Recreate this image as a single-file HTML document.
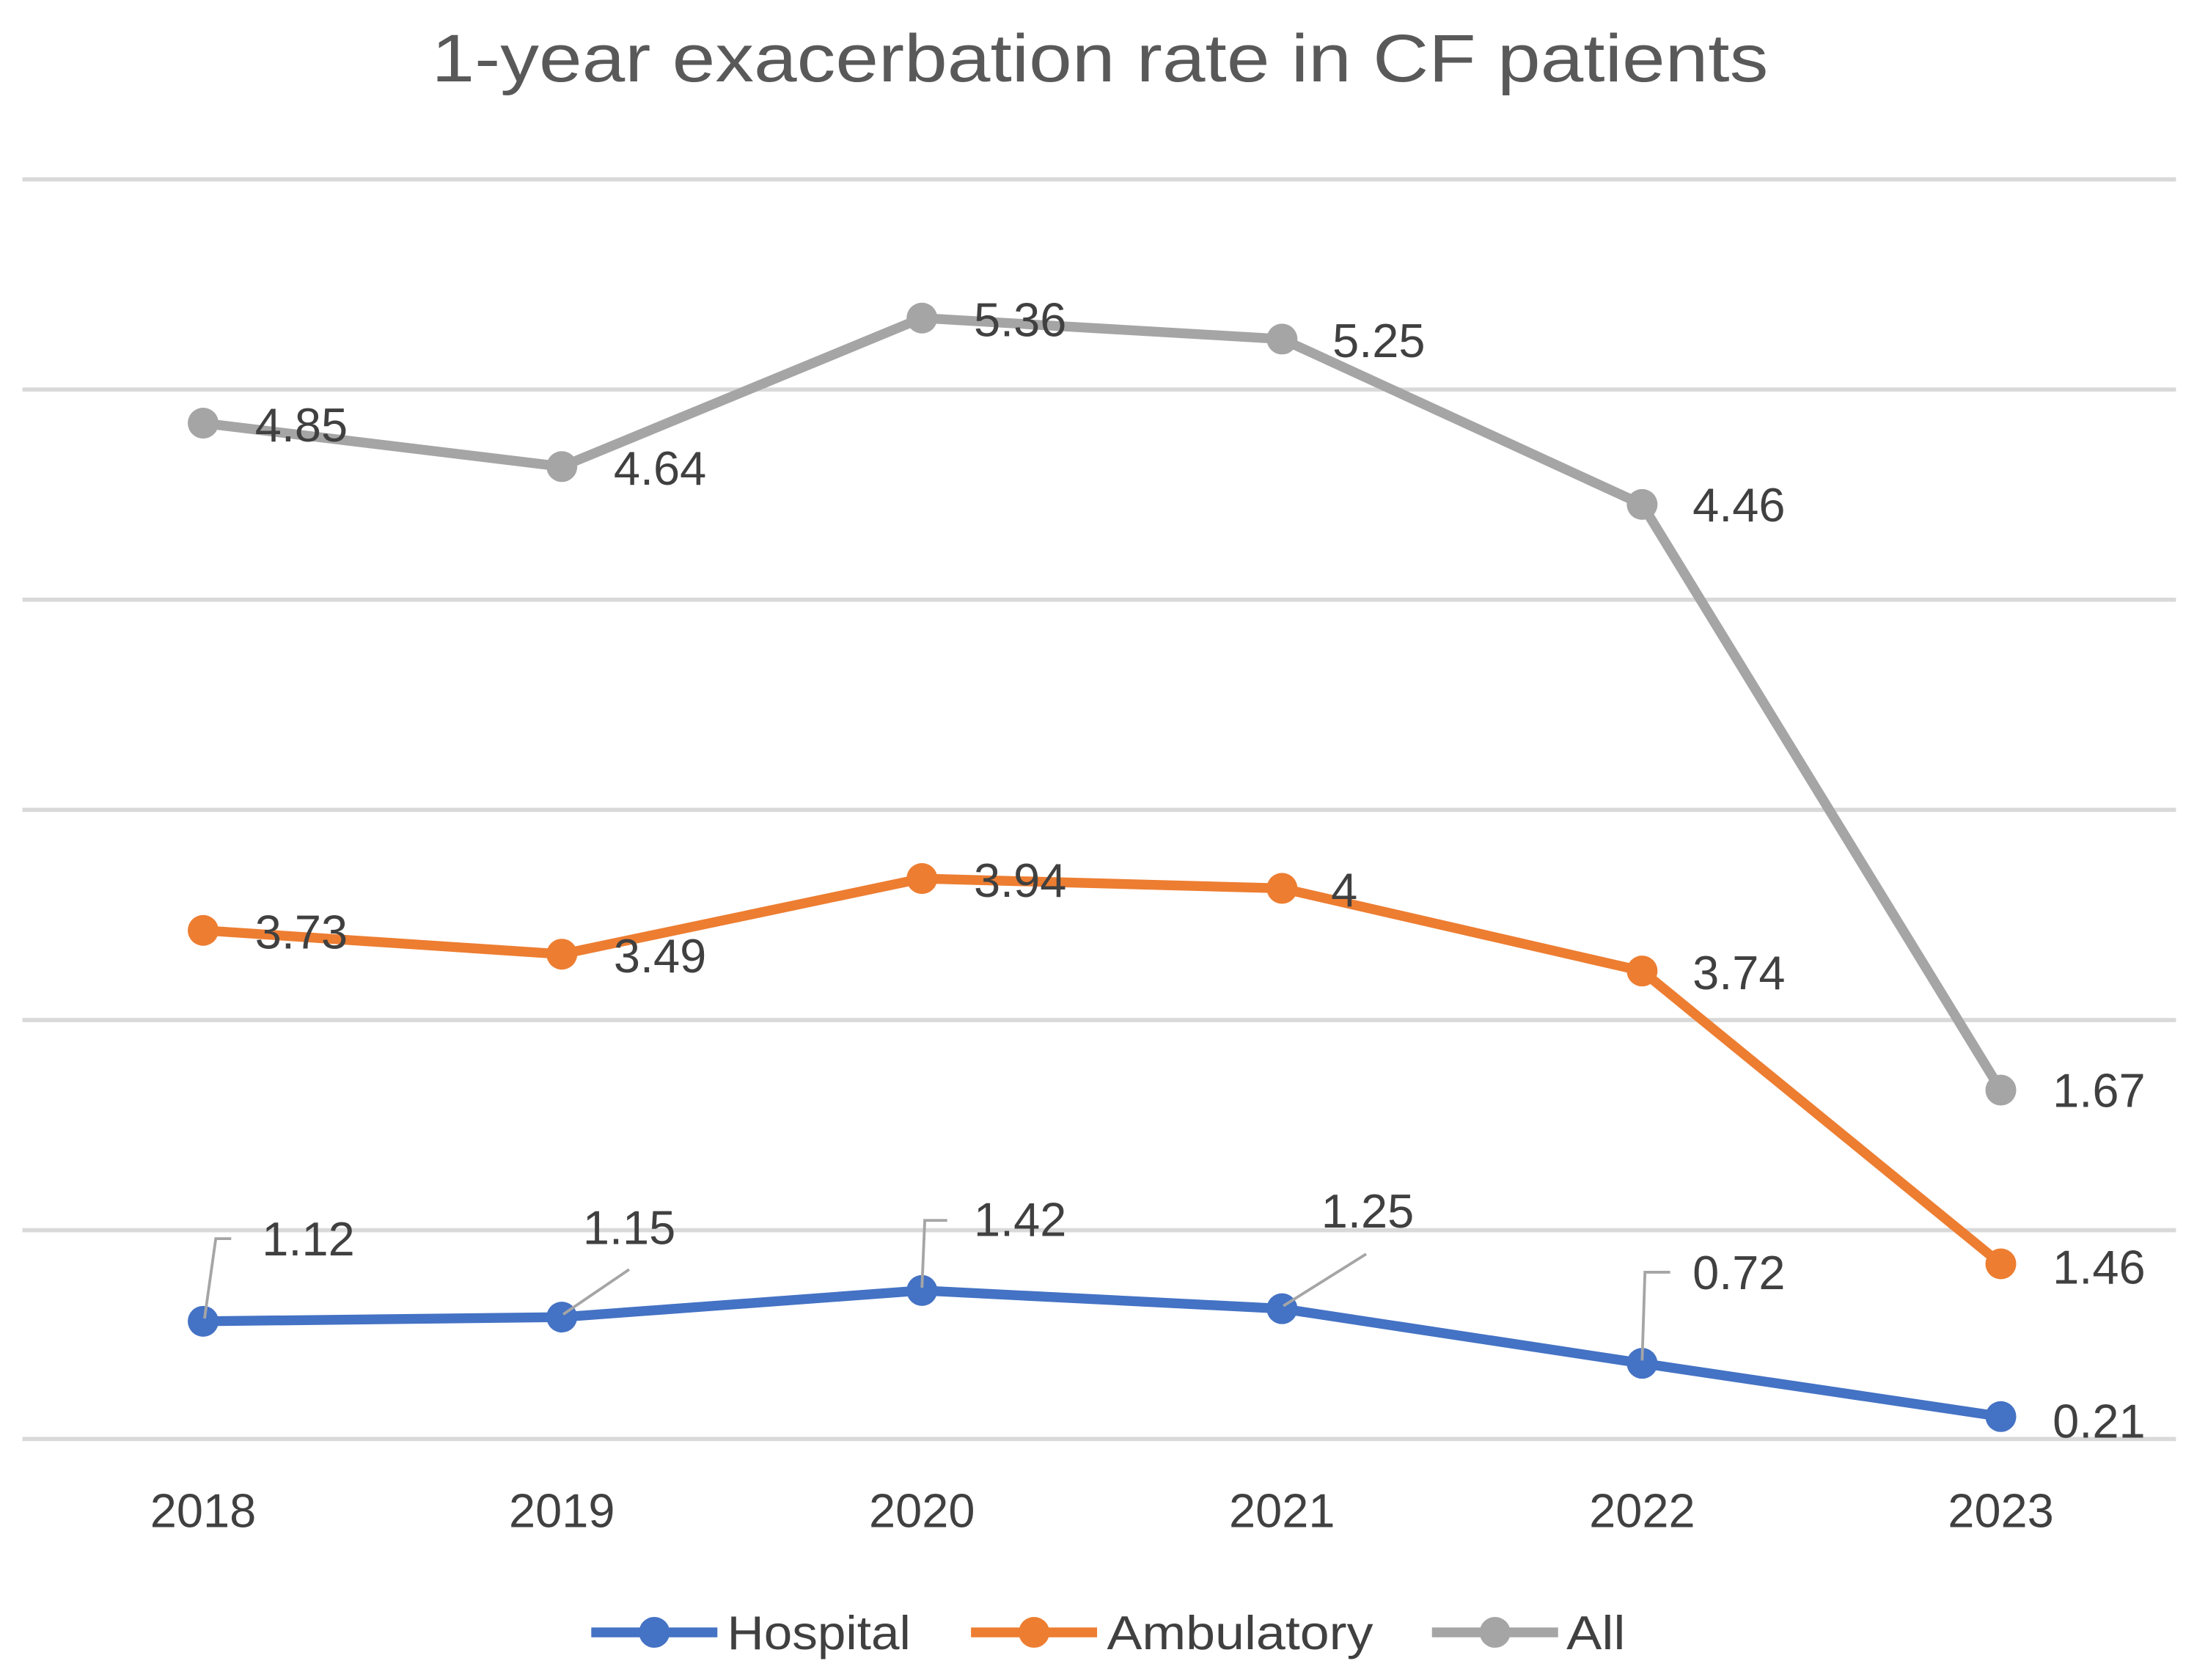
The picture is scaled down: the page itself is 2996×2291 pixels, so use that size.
<!DOCTYPE html>
<html><head><meta charset="utf-8"><style>
html,body{margin:0;padding:0;background:#fff}
svg{display:block}
text{font-family:"Liberation Sans",sans-serif;fill:#404040}
</style></head><body>
<svg width="2996" height="2291" viewBox="0 0 1568 1199" preserveAspectRatio="none" xmlns="http://www.w3.org/2000/svg">
<rect width="1568" height="1199" fill="#fff"/>
<text x="308" y="58" font-size="48" textLength="954" lengthAdjust="spacingAndGlyphs" style="fill:#595959">1-year exacerbation rate in CF patients</text>
<g stroke="#d9d9d9" stroke-width="3">
<line x1="16" x2="1553" y1="128" y2="128"/>
<line x1="16" x2="1553" y1="278" y2="278"/>
<line x1="16" x2="1553" y1="428" y2="428"/>
<line x1="16" x2="1553" y1="578" y2="578"/>
<line x1="16" x2="1553" y1="728" y2="728"/>
<line x1="16" x2="1553" y1="878" y2="878"/>
<line x1="16" x2="1553" y1="1027" y2="1027"/>
</g>
<g font-size="34" text-anchor="middle" style="fill:#595959">
<text x="145" y="1090">2018</text><text x="401" y="1090">2019</text><text x="658" y="1090">2020</text>
<text x="915" y="1090">2021</text><text x="1172" y="1090">2022</text><text x="1428" y="1090">2023</text>
</g>
<g fill="none" stroke-linejoin="round" stroke-width="7">
<polyline stroke="#A5A5A5" points="145,302 401,333 658,227 915,242 1172,360 1428,778"/>
<polyline stroke="#ED7D31" points="145,664 401,681 658,627 915,634 1172,693 1428,902"/>
<polyline stroke="#4472C4" points="145,943 401,940 658,921 915,934 1172,973 1428,1011"/>
</g>
<g fill="#A5A5A5"><circle cx="145" cy="302" r="11"/><circle cx="401" cy="333" r="11"/><circle cx="658" cy="227" r="11"/><circle cx="915" cy="242" r="11"/><circle cx="1172" cy="360" r="11"/><circle cx="1428" cy="778" r="11"/></g>
<g fill="#ED7D31"><circle cx="145" cy="664" r="11"/><circle cx="401" cy="681" r="11"/><circle cx="658" cy="627" r="11"/><circle cx="915" cy="634" r="11"/><circle cx="1172" cy="693" r="11"/><circle cx="1428" cy="902" r="11"/></g>
<g fill="#4472C4"><circle cx="145" cy="943" r="11"/><circle cx="401" cy="940" r="11"/><circle cx="658" cy="921" r="11"/><circle cx="915" cy="934" r="11"/><circle cx="1172" cy="973" r="11"/><circle cx="1428" cy="1011" r="11"/></g>
<g fill="none" stroke="#a5a5a5" stroke-width="2">
<polyline points="146,941 154,884 165,884"/>
<polyline points="402,938 449,906"/>
<polyline points="658,919 660,871 676,871"/>
<polyline points="916,932 975,895"/>
<polyline points="1172,971 1174,908 1192,908"/>
</g>
<g font-size="34">
<text x="182" y="315">4.85</text><text x="438" y="346">4.64</text><text x="695" y="240">5.36</text>
<text x="951" y="255">5.25</text><text x="1208" y="372">4.46</text><text x="1465" y="790">1.67</text>
<text x="182" y="677">3.73</text><text x="438" y="694">3.49</text><text x="695" y="640">3.94</text>
<text x="950" y="647">4</text><text x="1208" y="706">3.74</text><text x="1465" y="916">1.46</text>
<text x="187" y="896">1.12</text><text x="416" y="888">1.15</text><text x="695" y="882">1.42</text>
<text x="943" y="876">1.25</text><text x="1208" y="920">0.72</text><text x="1465" y="1026">0.21</text>
</g>
<g stroke-width="7">
<line x1="422" x2="512" y1="1165" y2="1165" stroke="#4472C4"/><circle cx="467" cy="1165" r="11" fill="#4472C4"/>
<line x1="693" x2="783" y1="1165" y2="1165" stroke="#ED7D31"/><circle cx="738" cy="1165" r="11" fill="#ED7D31"/>
<line x1="1022" x2="1112" y1="1165" y2="1165" stroke="#A5A5A5"/><circle cx="1067" cy="1165" r="11" fill="#A5A5A5"/>
</g>
<g font-size="34" style="fill:#595959">
<text x="519" y="1177" textLength="131" lengthAdjust="spacingAndGlyphs">Hospital</text>
<text x="790" y="1177" textLength="190" lengthAdjust="spacingAndGlyphs">Ambulatory</text>
<text x="1118" y="1177" textLength="42" lengthAdjust="spacingAndGlyphs">All</text>
</g>
</svg>
</body></html>
